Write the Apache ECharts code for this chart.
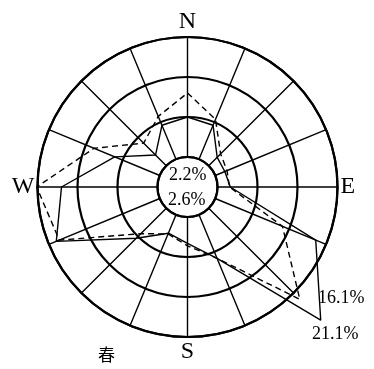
<!DOCTYPE html>
<html>
<head>
<meta charset="utf-8">
<script src="https://cdn.jsdelivr.net/npm/echarts@6/dist/echarts.min.js"></script>
<style>
  html, body { margin: 0; padding: 0; background: #fff; }
  #chart { width: 374px; height: 369px; }
</style>
</head>
<body>
<div id="chart"></div>
<script>
// 16个风向, 从北开始顺时针
const directions = ['N', 'NNE', 'NE', 'ENE', 'E', 'ESE', 'SE', 'SSE', 'S', 'SSW', 'SW', 'WSW', 'W', 'WNW', 'NW', 'NNW'];
const compassLabels = ['N', 'E', 'S', 'W'];

// 风向频率(%), 实线和虚线
const solidValues = [5.0, 4.6, 1.5, 1.3, 1.6, 13.6, 19.8, 5.9, 3.3, 2.5, 5.3, 14.0, 12.0, 6.1, 1.9, 4.6];
const dashedValues = [8.0, 5.4, 2.1, 1.6, 1.5, 9.1, 16.1, 5.9, 3.6, 2.6, 4.5, 13.6, 15.1, 8.9, 4.0, 5.8];

const calmTexts = ['2.2%', '2.6%'];
const peakTexts = ['16.1%', '21.1%'];
const seasonName = '春';

const serif = '"Liberation Serif", "DejaVu Serif", serif';
const step = 360 / directions.length;

// 闭合折线: 最后回到北方 (360°)
function closedLoop(values) {
    const pts = values.map((v, i) => [v, i * step]);
    pts.push([values[0], 360]);
    return pts;
}

const chart = echarts.init(document.getElementById('chart'));

chart.setOption({
    animation: false,
    backgroundColor: '#fff',
    polar: [
        // 网格用
        { center: [187.5, 187], radius: [30, 150] },
        // 数据用, 半径更大, 防止超出15%的值被截断
        { center: [187.5, 187], radius: [30, 230] }
    ],
    angleAxis: [
        {
            polarIndex: 0,
            type: 'value',
            min: 0,
            max: 360,
            interval: step,
            startAngle: 90,
            clockwise: true,
            axisLine: { show: true, lineStyle: { color: '#000', width: 2.2 } },
            axisTick: { show: false },
            splitLine: { show: true, lineStyle: { color: '#000', width: 1.4 } },
            axisLabel: {
                margin: 3,
                color: '#000',
                fontFamily: serif,
                fontSize: 24,
                formatter: function (value) {
                    if (value >= 360) return '';
                    const idx = Math.round(value / step);
                    const name = directions[idx];
                    return compassLabels.indexOf(name) >= 0 ? name : '';
                }
            }
        },
        {
            polarIndex: 1,
            type: 'value',
            min: 0,
            max: 360,
            startAngle: 90,
            clockwise: true,
            axisLine: { show: false },
            axisTick: { show: false },
            axisLabel: { show: false },
            splitLine: { show: false }
        }
    ],
    radiusAxis: [
        {
            polarIndex: 0,
            type: 'value',
            min: 0,
            max: 15,
            interval: 5,
            axisLine: { show: false },
            axisTick: { show: false },
            axisLabel: { show: false },
            splitLine: { show: true, lineStyle: { color: '#000', width: 2.2 } }
        },
        {
            polarIndex: 1,
            type: 'value',
            min: 0,
            max: 25,
            axisLine: { show: false },
            axisTick: { show: false },
            axisLabel: { show: false },
            splitLine: { show: false }
        }
    ],
    series: [
        {
            name: 'solid',
            type: 'line',
            coordinateSystem: 'polar',
            polarIndex: 1,
            data: closedLoop(solidValues),
            symbol: 'none',
            clip: false,
            lineStyle: { color: '#000', width: 1.4, type: 'solid' },
            z: 5
        },
        {
            name: 'dashed',
            type: 'line',
            coordinateSystem: 'polar',
            polarIndex: 1,
            data: closedLoop(dashedValues),
            symbol: 'none',
            clip: false,
            lineStyle: { color: '#000', width: 1.4, type: [6, 4] },
            z: 5
        }
    ],
    graphic: [
        {
            type: 'text', left: 169, top: 166,
            style: { text: calmTexts[0], font: '18px ' + serif, fill: '#000' }
        },
        {
            type: 'text', left: 168, top: 191,
            style: { text: calmTexts[1], font: '18px ' + serif, fill: '#000' }
        },
        {
            type: 'text', left: 318, top: 289,
            style: { text: peakTexts[0], font: '18px ' + serif, fill: '#000' }
        },
        {
            type: 'text', left: 312, top: 325,
            style: { text: peakTexts[1], font: '18px ' + serif, fill: '#000' }
        },
        {
            type: 'text', left: 98, top: 346,
            style: { text: seasonName, font: '17px "Noto Sans CJK SC", sans-serif', fill: '#000' }
        }
    ]
});

window.addEventListener('resize', function () {
    chart.resize();
});
</script>
</body>
</html>
